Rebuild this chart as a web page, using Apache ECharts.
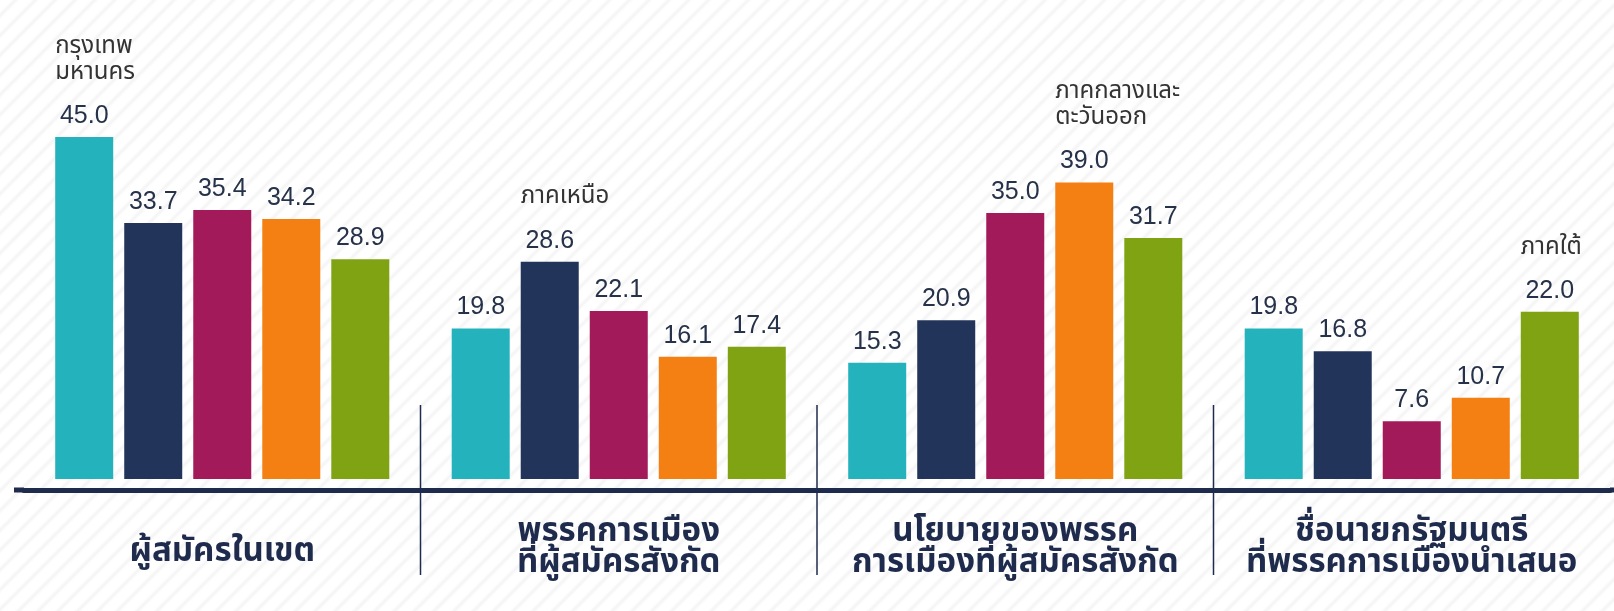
<!DOCTYPE html>
<html><head><meta charset="utf-8">
<script src="https://cdn.jsdelivr.net/npm/echarts@6/dist/echarts.min.js"></script>
<style>
html,body{margin:0;padding:0;background:#fff}
#c{width:1614px;height:611px;background:repeating-linear-gradient(135deg,#ffffff 0px,#ffffff 8px,#f4f4f4 11px,#ffffff 14px)}
</style>
</head><body><div id="c"></div>
<script>
// ---- data ----
const categories = ['ผู้สมัครในเขต', 'พรรคการเมือง\nที่ผู้สมัครสังกัด', 'นโยบายของพรรค\nการเมืองที่ผู้สมัครสังกัด', 'ชื่อนายกรัฐมนตรี\nที่พรรคการเมืองนำเสนอ'];
const seriesNames = ['กรุงเทพ\nมหานคร', 'ภาคเหนือ', 'ภาคตะวันออกเฉียงเหนือ', 'ภาคกลางและ\nตะวันออก', 'ภาคใต้'];
const bangkok     = [45.0, 19.8, 15.3, 19.8];
const north       = [33.7, 28.6, 20.9, 16.8];
const northeast   = [35.4, 22.1, 35.0, 7.6];
const centralEast = [34.2, 16.1, 39.0, 10.7];
const south       = [28.9, 17.4, 31.7, 22.0];
// category index above which each series' name is written (null = not written)
const annotatedCategory = [0, 1, null, 2, 3];

// ---- styling ----
const seriesValues = [bangkok, north, northeast, centralEast, south];
const colors = ['#24b3bd', '#22345a', '#a21a5a', '#f47f12', '#7fa312'];
const NUM_FONT = '"Liberation Sans", Arial, sans-serif';
const THAI_FONT = '"Noto Sans Thai", "Noto Sans Thai UI", Kanit, Prompt, "Liberation Sans", "Noto Sans", sans-serif';
const VALUE_SIZE = 25;
const BAR_W = 58;
const ink = '#26324a';
const navy = '#1f2b4d';
const measure = document.createElement('canvas').getContext('2d');
measure.font = VALUE_SIZE + 'px ' + NUM_FONT;

const series = seriesValues.map((vals, si) => ({
  type: 'bar',
  name: seriesNames[si],
  barWidth: BAR_W,
  barGap: '19%',
  itemStyle: { color: colors[si] },
  label: {
    show: true, position: 'top', distance: 6,
    fontSize: VALUE_SIZE, lineHeight: 30, color: ink, fontFamily: NUM_FONT,
    formatter: p => Number(p.value).toFixed(1)
  },
  data: vals.map((v, ci) => {
    if (annotatedCategory[si] !== ci) return v;
    const txt = v.toFixed(1);
    const pad = Math.max(0, (BAR_W - measure.measureText(txt).width) / 2);
    const nameRich = seriesNames[si].split('\n').map(l => '{n|' + l + '}').join('\n');
    return {
      value: v,
      label: {
        align: 'left',
        offset: [-BAR_W / 2, 0],
        formatter: nameRich + '\n{sp| }\n{v|' + txt + '}',
        rich: {
          n: { fontSize: 24, lineHeight: 26, color: '#333', fontFamily: THAI_FONT },
          sp: { fontSize: 1, lineHeight: 14 },
          v: { fontSize: VALUE_SIZE, lineHeight: 30, color: ink, fontFamily: NUM_FONT, padding: [0, 0, 0, pad] }
        }
      }
    };
  })
}));

const chart = echarts.init(document.getElementById('c'), null, { renderer: 'canvas' });
chart.setOption({
  backgroundColor: 'transparent',
  animation: false,
  grid: { left: 24, right: 4, top: 23, bottom: 132 },
  xAxis: {
    type: 'category',
    data: categories.map((c, i) => i === 0 ? { value: c, textStyle: { padding: [20, 0, 0, 0] } } : c),
    offset: 11,
    axisLine: { show: true, onZero: false, lineStyle: { color: navy, width: 5 } },
    axisTick: { show: false },
    axisLabel: {
      interval: 0, hideOverlap: false,
      margin: 29, verticalAlign: 'top', lineHeight: 31,
      fontSize: 33, fontWeight: 'bold', color: navy, fontFamily: THAI_FONT
    }
  },
  yAxis: { type: 'value', min: 0, max: 60, show: false, splitLine: { show: false } },
  series: series
});

// separators between category groups, and the axis line's extension to the page edges
const cx = categories.map((c, i) => chart.convertToPixel({ xAxisIndex: 0 }, i));
const half = (cx[1] - cx[0]) / 2;
const axisY = chart.convertToPixel({ yAxisIndex: 0 }, 0) + 11;
const g = [];
for (let i = 0; i < cx.length - 1; i++) {
  const x = (cx[i] + cx[i + 1]) / 2;
  g.push({ type: 'line', shape: { x1: x, y1: 405, x2: x, y2: 575 }, style: { stroke: navy, lineWidth: 1.5 } });
}
g.push({ type: 'line', shape: { x1: 14, y1: axisY, x2: cx[0] - half, y2: axisY }, style: { stroke: navy, lineWidth: 5 } });
g.push({ type: 'line', shape: { x1: cx[cx.length - 1] + half, y1: axisY, x2: 1614, y2: axisY }, style: { stroke: navy, lineWidth: 5 } });
chart.setOption({ graphic: g });
</script>
</body></html>
